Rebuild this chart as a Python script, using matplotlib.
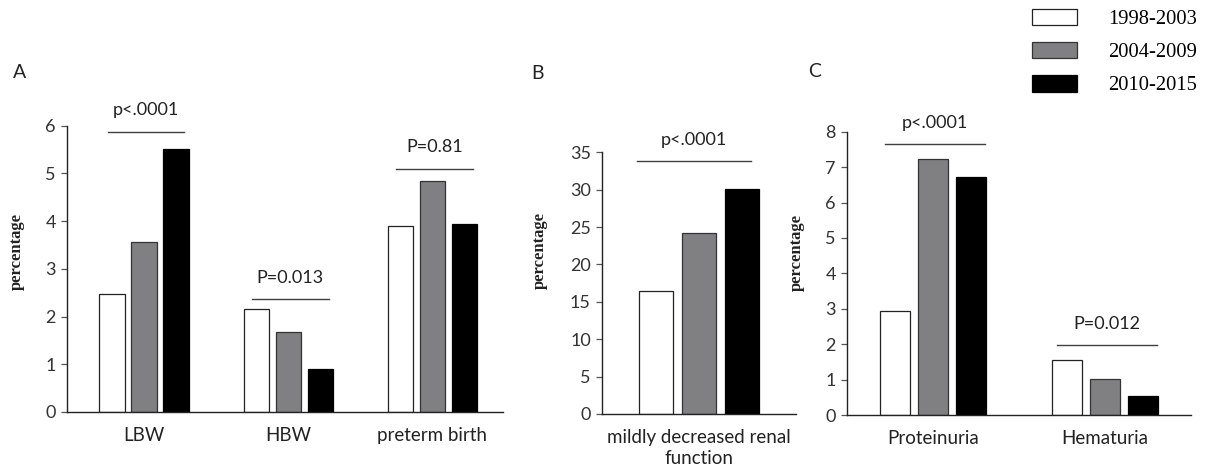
import numpy as np
import matplotlib
matplotlib.use("Agg")
import matplotlib.pyplot as plt

# dados
periodos = ["1998-2003", "2004-2009", "2010-2015"]

cat_a = ["LBW", "HBW", "preterm birth"]
val_a = [[2.48, 2.16, 3.89],   # 1998-2003
         [3.57, 1.67, 4.84],   # 2004-2009
         [5.51, 0.91, 3.95]]   # 2010-2015
p_a = ["p<.0001", "P=0.013", "P=0.81"]
nivel_p_a = [5.87, 2.36, 5.09]

cat_b = ["mildly decreased renal\nfunction"]
val_b = [[16.4], [24.2], [30.1]]
p_b = ["p<.0001"]
nivel_p_b = [33.8]

cat_c = ["Proteinuria", "Hematuria"]
val_c = [[2.93, 1.55],
         [7.23, 1.02],
         [6.72, 0.53]]
p_c = ["p<.0001", "P=0.012"]
nivel_p_c = [7.64, 1.97]

cores = ["white", "#808082", "black"]
bordas = ["#222222", "#333333", "black"]

SANS = "Lato"
SERIF = "Liberation Serif"
W, H = 1208, 466


def painel(ax, categorias, valores, ptxt, pniv, ymax, ystep, xlim, span):
    x = np.arange(len(categorias))
    largura = 0.176
    passo = 0.222
    barras = []
    for k in range(3):
        b = ax.bar(x + (k - 1) * passo, valores[k], largura, color=cores[k],
                   edgecolor=bordas[k], linewidth=0.9, label=periodos[k])
        barras.append(b)
    for i in range(len(categorias)):
        ax.plot([x[i] + span[0], x[i] + span[1]], [pniv[i], pniv[i]],
                color="#404040", lw=1.0, clip_on=False)
        ax.annotate(ptxt[i], (x[i] + (span[0] + span[1]) / 2, pniv[i]),
                    xytext=(0, 12), textcoords="offset points", ha="center",
                    va="baseline", fontsize=13, family=SANS, color="#222222",
                    annotation_clip=False)
    ax.set_xlim(*xlim)
    ax.set_ylim(0, ymax)
    ax.set_yticks(np.arange(0, ymax + ystep / 2, ystep))
    ax.set_xticks(x)
    ax.set_xticklabels(categorias, family=SANS, fontsize=13.5, color="#222222",
                       linespacing=1.3)
    for t in ax.get_yticklabels():
        t.set_family(SANS)
        t.set_fontsize(13)
        t.set_color("#333333")
    ax.tick_params(axis="x", length=0, pad=11)
    ax.tick_params(axis="y", length=4, width=0.9, direction="out",
                   color="#555555", pad=4)
    for s in ["top", "right"]:
        ax.spines[s].set_visible(False)
    ax.spines["left"].set_color("#222222")
    ax.spines["bottom"].set_color("#222222")
    ax.spines["left"].set_linewidth(1.0)
    ax.spines["bottom"].set_linewidth(1.0)
    ax.set_ylabel("percentage", family=SERIF, fontweight="bold", fontsize=12,
                  color="#222222")
    return barras


def eixo(esq, dir_, base, topo):
    return fig.add_axes([esq / W, 1 - base / H, (dir_ - esq) / W, (base - topo) / H])


fig = plt.figure(figsize=(12.08, 4.66), dpi=100)

ax1 = eixo(67, 503, 412, 125.7)
painel(ax1, cat_a, val_a, p_a, nivel_p_a, 6, 1, (-0.535, 2.49), (-0.25, 0.28))
ax1.yaxis.set_label_coords(-0.096, 0.56)

ax2 = eixo(602, 796, 414, 152.3)
painel(ax2, cat_b, val_b, p_b, nivel_p_b, 35, 5, (-0.5, 0.5), (-0.32, 0.27))
ax2.yaxis.set_label_coords(-0.278, 0.626)

ax3 = eixo(847, 1191, 415, 131.7)
barras = painel(ax3, cat_c, val_c, p_c, nivel_p_c, 8, 1, (-0.5, 1.5), (-0.28, 0.3))
ax3.yaxis.set_label_coords(-0.122, 0.575)

for letra, px, py in [("A", 13, 72.5), ("B", 531, 73.5), ("C", 808, 71.5)]:
    fig.text(px / W, 1 - py / H, letra, family=SANS, fontsize=14,
             ha="left", va="center", color="#222222")

fig.legend(handles=barras, labels=periodos, loc="upper left",
           bbox_to_anchor=(1032 / W, 1 - 9 / H), frameon=False,
           prop={"family": SERIF, "size": 14.8}, handlelength=2.2,
           handleheight=0.85, handletextpad=1.5, labelspacing=0.62,
           borderpad=0, borderaxespad=0)

plt.savefig("out.png", dpi=100)
